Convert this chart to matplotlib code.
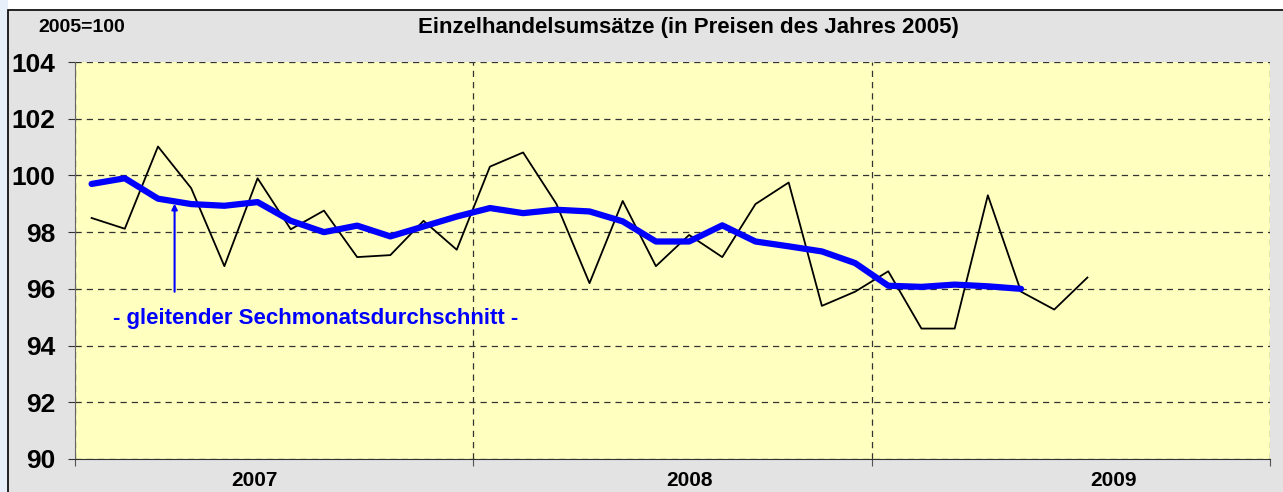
import numpy as np
import matplotlib.pyplot as plt
from matplotlib.patches import Rectangle

# Monatswerte ab Januar 2007
umsatz = [98.5, 98.12, 101.02, 99.55, 96.8, 99.9, 98.1, 98.76, 97.12, 97.19, 98.4, 97.38,
          100.31, 100.81, 99.0, 96.2, 99.1, 96.8, 97.9, 97.12, 98.99, 99.75, 95.4, 95.9,
          96.62, 94.6, 94.6, 99.3, 95.9, 95.27, 96.4]
gleitend = [99.7, 99.9, 99.18, 98.99, 98.93, 99.06, 98.4, 98.0, 98.23, 97.85, 98.2, 98.55,
            98.85, 98.67, 98.79, 98.73, 98.38, 97.67, 97.67, 98.24, 97.67, 97.5, 97.32, 96.91,
            96.11, 96.07, 96.15, 96.09, 96.0]
jahre = ['2007', '2008', '2009']
jahr_pos = [5.4, 18.5, 31.3]
y_ticks = [90, 92, 94, 96, 98, 100, 102, 104]

fig = plt.figure(figsize=(12.83, 4.92), dpi=100, facecolor='white')

# Hintergrund wie im Original
fig.patches.append(Rectangle((0, 0), 8 / 1283, 1, transform=fig.transFigure,
                             facecolor='#e6effa', edgecolor='none', zorder=-10))
fig.patches.append(Rectangle((8 / 1283, -0.01), 1, 1 - 10 / 492 + 0.01, transform=fig.transFigure,
                             facecolor='#e3e3e3', edgecolor='black', linewidth=1.2, zorder=-10))

ax = fig.add_axes([75 / 1283, 1 - 459 / 492, (1270 - 75) / 1283, (459 - 62) / 492])
ax.set_facecolor('#ffffc0')

x1 = np.arange(len(umsatz)) + 0.5
x2 = np.arange(len(gleitend)) + 0.5
ax.plot(x1, umsatz, color='black', linewidth=1.3, zorder=3)
ax.plot(x2, gleitend, color='#0000ff', linewidth=4.5, solid_capstyle='round', zorder=4)

ax.set_xlim(0, 36)
ax.set_ylim(90, 104)

ax.set_yticks(y_ticks)
ax.set_yticklabels([str(v) for v in y_ticks], fontsize=19, fontweight='bold',
                   family='Liberation Sans')
ax.set_xticks([0, 12, 24, 36])
ax.set_xticklabels([])
ax.set_xticks(jahr_pos, minor=True)
ax.set_xticklabels(jahre, minor=True, fontsize=15, fontweight='bold', family='Liberation Sans')
ax.tick_params(axis='x', which='minor', length=0, pad=9)
ax.tick_params(axis='x', which='major', length=5, color='#555555')
ax.tick_params(axis='y', length=5, color='#333333', pad=9)

ax.grid(True, which='major', color='#333333', linestyle=(0, (5, 4)), linewidth=0.9)
for s in ['top', 'right']:
    ax.spines[s].set_visible(False)
ax.spines['left'].set_color('#666666')
ax.spines['bottom'].set_color('#333333')

# Annotation
ax.annotate('', xy=(3.0, 99.1), xytext=(3.0, 95.8),
            arrowprops=dict(arrowstyle='-|>', color='#0000ff', lw=1.5, mutation_scale=8))
ax.text(1.15, 94.95, '- gleitender Sechmonatsdurchschnitt -', color='#0000ff', fontsize=16,
        fontweight='bold', family='Liberation Sans', va='center', ha='left')

fig.text(38 / 1283, 1 - 28 / 492, '2005=100', fontsize=14, fontweight='bold',
         family='Liberation Sans', va='center', ha='left')
fig.text(688 / 1283, 1 - 28 / 492, 'Einzelhandelsumsätze (in Preisen des Jahres 2005)',
         fontsize=16, fontweight='bold', family='Liberation Sans', va='center', ha='center')

fig.savefig('out.png', dpi=100, facecolor=fig.get_facecolor())
